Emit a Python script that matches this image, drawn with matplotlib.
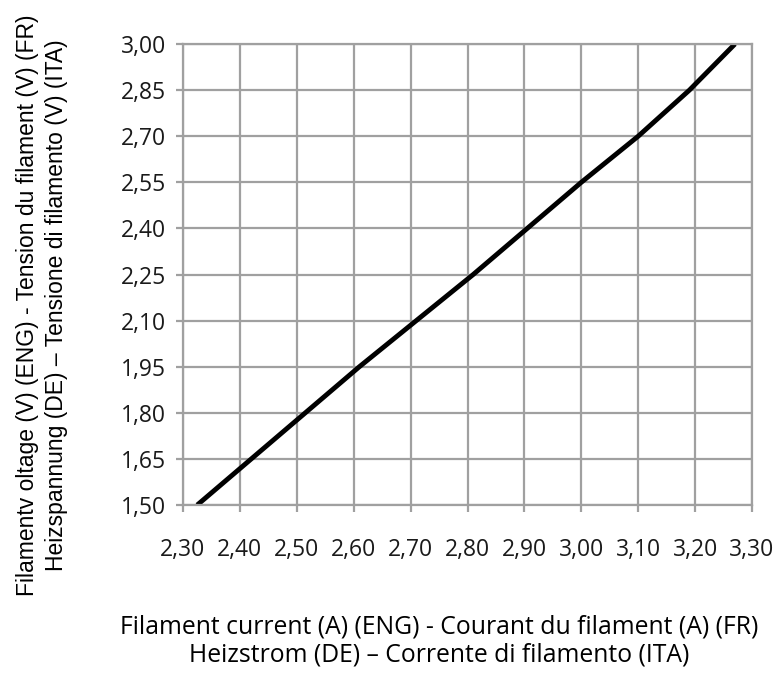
import matplotlib
matplotlib.use('Agg')
import matplotlib.pyplot as plt
from matplotlib.ticker import FuncFormatter

# filament curve
voltage = [1.50, 1.65, 1.80, 1.95, 2.10, 2.25, 2.40, 2.55, 2.70, 2.85, 3.00]
current = [2.325, 2.42, 2.515, 2.61, 2.71, 2.81, 2.905, 3.00, 3.10, 3.19, 3.27]

x_ticks = [2.30, 2.40, 2.50, 2.60, 2.70, 2.80, 2.90, 3.00, 3.10, 3.20, 3.30]
y_ticks = [1.50, 1.65, 1.80, 1.95, 2.10, 2.25, 2.40, 2.55, 2.70, 2.85, 3.00]

fig = plt.figure(figsize=(7.78, 6.73), dpi=100)
ax = fig.add_axes([0.2352, 0.2496, 0.7314, 0.685])

ax.plot(current, voltage, color='black', linewidth=3.5, solid_capstyle='butt')

ax.set_xlim(2.30, 3.30)
ax.set_ylim(1.50, 3.00)
ax.set_xticks(x_ticks)
ax.set_yticks(y_ticks)
comma = FuncFormatter(lambda v, p: ('%.2f' % v).replace('.', ','))
ax.xaxis.set_major_formatter(comma)
ax.yaxis.set_major_formatter(comma)

ax.grid(True, color='#a0a0a0', linewidth=1.6)
for s in ax.spines.values():
    s.set_color('#a0a0a0')
    s.set_linewidth(1.6)
ax.tick_params(colors='#a0a0a0', width=1.6, length=5, labelcolor='#1a1a1a', labelsize=16.5)
ax.tick_params(axis='x', pad=19)
ax.tick_params(axis='y', pad=7)
for lab in ax.get_xticklabels() + ax.get_yticklabels():
    lab.set_family(['Open Sans', 'DejaVu Sans'])

fig.text(0.565, 0.0475, 'Filament current (A) (ENG) - Courant du filament (A) (FR)\nHeizstrom (DE) \u2013 Corrente di filamento (ITA)',
         ha='center', va='center', fontsize=17.8, family=['Open Sans', 'DejaVu Sans'], linespacing=1.15)
fig.text(0.054, 0.547, 'Filamentv oltage (V) (ENG) - Tension du filament (V) (FR)\nHeizspannung (DE) \u2013 Tensione di filamento (V) (ITA)',
         ha='center', va='center', rotation=90, fontsize=16.5, family=['Liberation Sans', 'DejaVu Sans'], linespacing=1.35)

fig.savefig('out.png', dpi=100)
